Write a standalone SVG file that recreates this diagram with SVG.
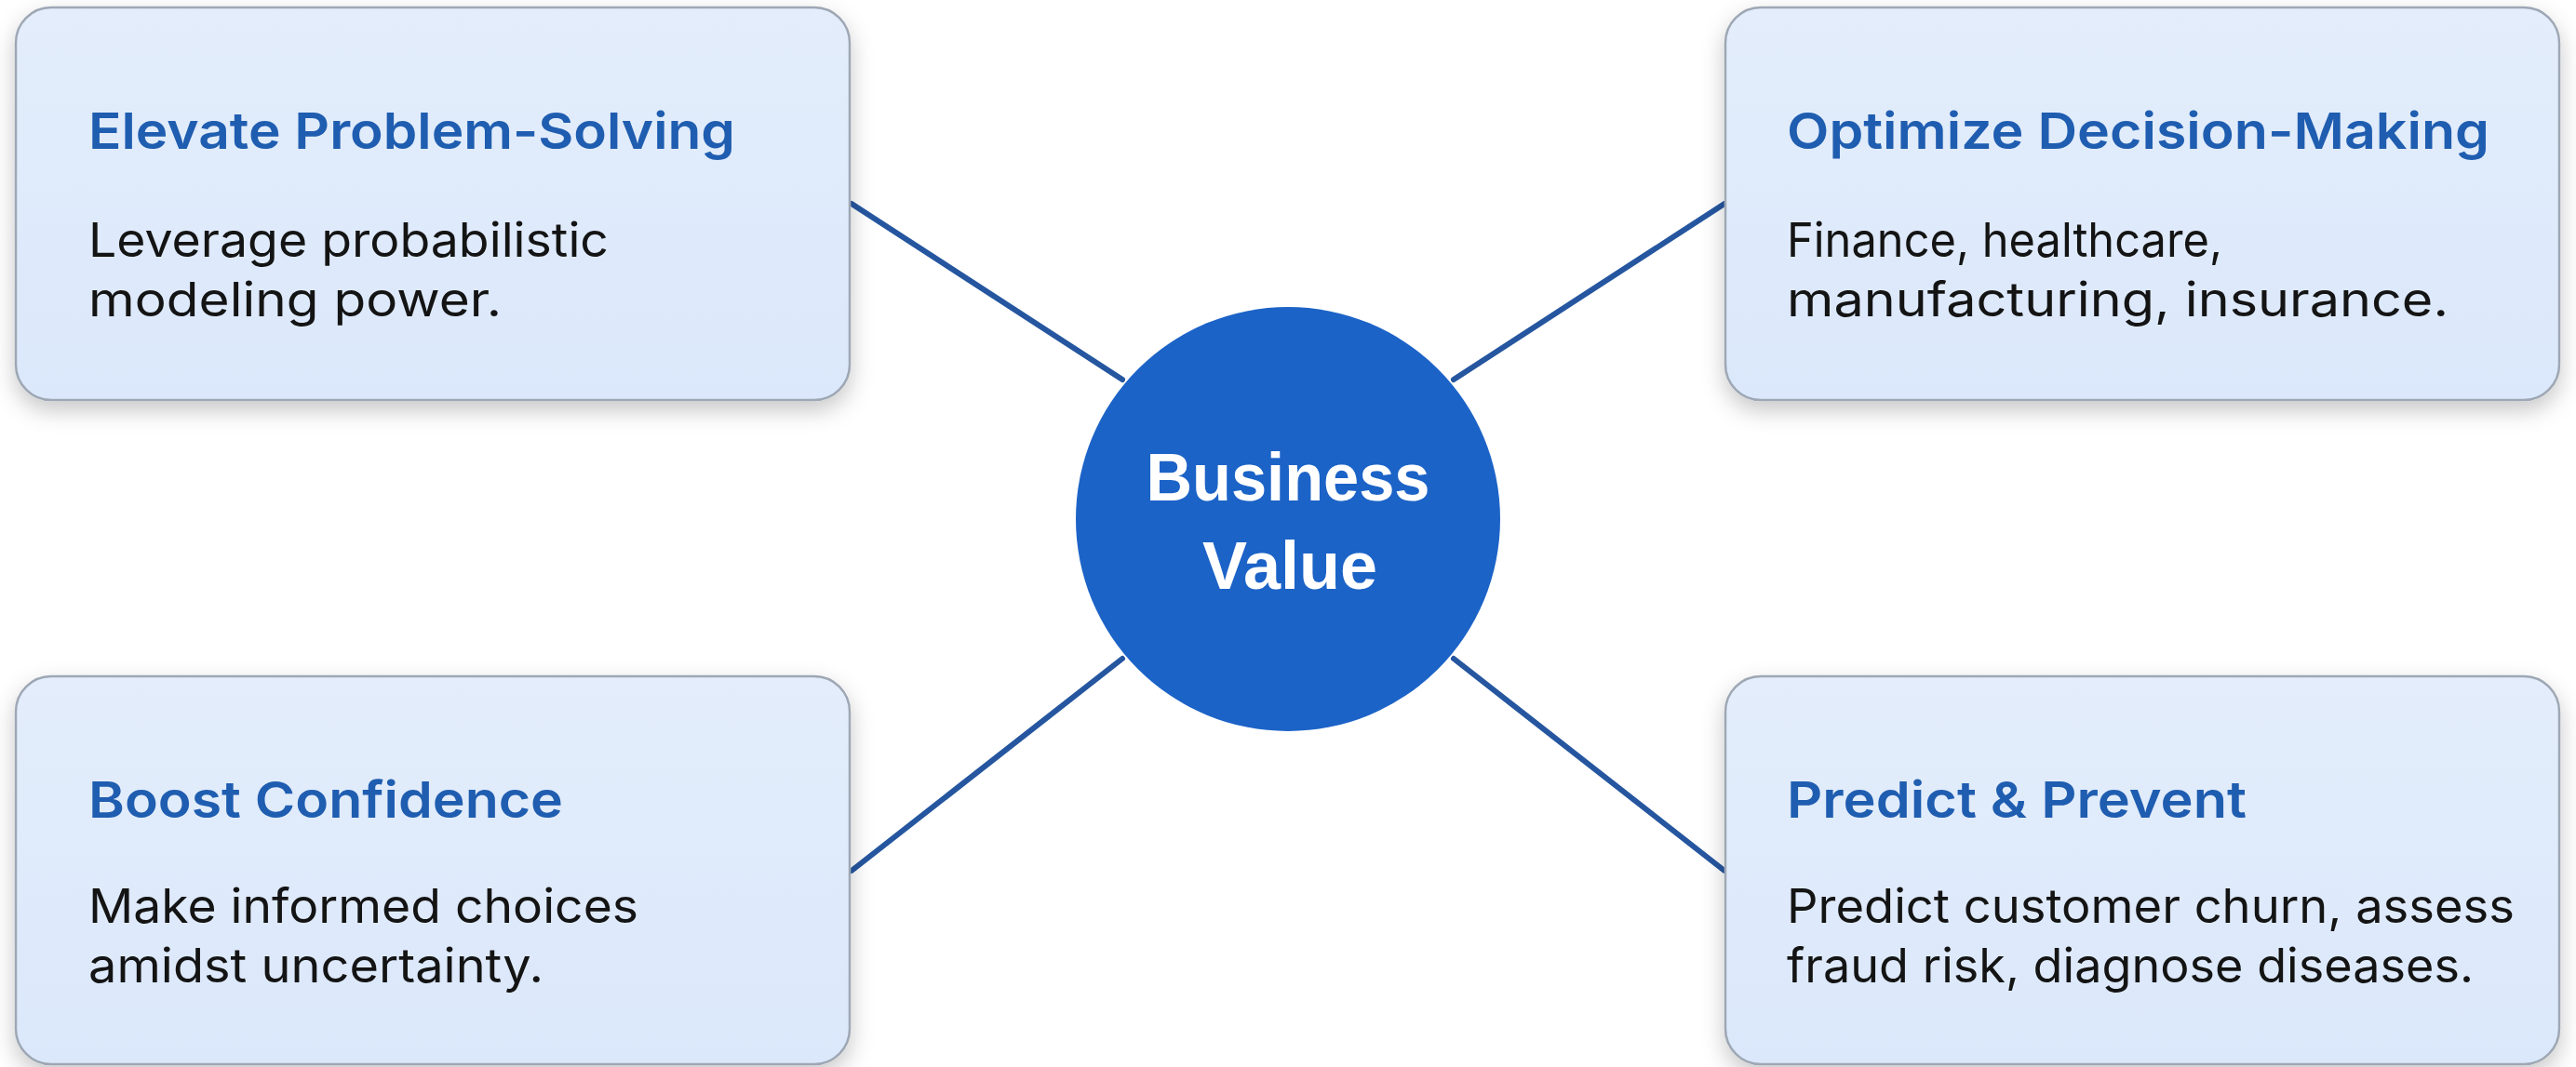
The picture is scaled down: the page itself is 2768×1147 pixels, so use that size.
<svg xmlns="http://www.w3.org/2000/svg" width="2768" height="1147" viewBox="0 0 2768 1147">
  <defs>
    <filter id="shadow" x="-10%" y="-10%" width="120%" height="130%">
      <feDropShadow dx="0" dy="10" stdDeviation="12" flood-color="#000000" flood-opacity="0.22"/>
    </filter>
    <linearGradient id="boxfill" x1="0" y1="0" x2="0" y2="1">
      <stop offset="0" stop-color="#e3edfb"/>
      <stop offset="1" stop-color="#dbe8fb"/>
    </linearGradient>
    <style>
      .box { fill: url(#boxfill); stroke: #9ea7b4; stroke-width: 2.5; filter: url(#shadow); }
      .title { font-family: Inter, "Liberation Sans", sans-serif; font-weight: 600; font-size: 54px; fill: #1f5db0; }
      .body { font-family: Inter, "Liberation Sans", sans-serif; font-weight: 400; font-size: 51px; fill: #141414; }
      .conn { stroke: #25569f; stroke-width: 6; fill: none; stroke-linecap: round; }
      .hub { fill: #1c63c7; }
      .hubtext { font-family: "Liberation Sans", Arial, sans-serif; font-weight: 700; font-size: 72px; fill: #ffffff; text-anchor: middle; }
    </style>
  </defs>
  <rect x="0" y="0" width="2768" height="1147" fill="#ffffff"/>

  <g id="connectors">
    <line class="conn" x1="915" y1="219" x2="1206" y2="408"/>
    <line class="conn" x1="1853" y1="219" x2="1562" y2="408"/>
    <line class="conn" x1="915" y1="936" x2="1206" y2="708"/>
    <line class="conn" x1="1853" y1="936" x2="1562" y2="708"/>
  </g>

  <g id="node-elevate">
    <rect class="box" x="17" y="8" width="896" height="422" rx="38"/>
    <text class="title" x="95" y="160" textLength="695" lengthAdjust="spacingAndGlyphs">Elevate Problem-Solving</text>
    <text class="body" x="95" y="276" textLength="559" lengthAdjust="spacingAndGlyphs">Leverage probabilistic</text>
    <text class="body" x="95" y="340" textLength="444" lengthAdjust="spacingAndGlyphs">modeling power.</text>
  </g>

  <g id="node-optimize">
    <rect class="box" x="1854" y="8" width="896" height="422" rx="38"/>
    <text class="title" x="1920" y="160" textLength="755" lengthAdjust="spacingAndGlyphs">Optimize Decision-Making</text>
    <text class="body" x="1920" y="276" textLength="468" lengthAdjust="spacingAndGlyphs">Finance, healthcare,</text>
    <text class="body" x="1920" y="340" textLength="711" lengthAdjust="spacingAndGlyphs">manufacturing, insurance.</text>
  </g>

  <g id="node-boost">
    <rect class="box" x="17" y="727" width="896" height="417" rx="38"/>
    <text class="title" x="95" y="879" textLength="510" lengthAdjust="spacingAndGlyphs">Boost Confidence</text>
    <text class="body" x="95" y="992" textLength="591" lengthAdjust="spacingAndGlyphs">Make informed choices</text>
    <text class="body" x="95" y="1056" textLength="489" lengthAdjust="spacingAndGlyphs">amidst uncertainty.</text>
  </g>

  <g id="node-predict">
    <rect class="box" x="1854" y="727" width="896" height="417" rx="38"/>
    <text class="title" x="1920" y="879" textLength="494" lengthAdjust="spacingAndGlyphs">Predict &amp; Prevent</text>
    <text class="body" x="1920" y="992" textLength="782" lengthAdjust="spacingAndGlyphs">Predict customer churn, assess</text>
    <text class="body" x="1920" y="1056" textLength="738" lengthAdjust="spacingAndGlyphs">fraud risk, diagnose diseases.</text>
  </g>

  <g id="node-business-value">
    <circle class="hub" cx="1384" cy="558" r="228"/>
    <text class="hubtext" x="1384" y="538" textLength="305" lengthAdjust="spacingAndGlyphs">Business</text>
    <text class="hubtext" x="1386" y="633">Value</text>
  </g>
</svg>
